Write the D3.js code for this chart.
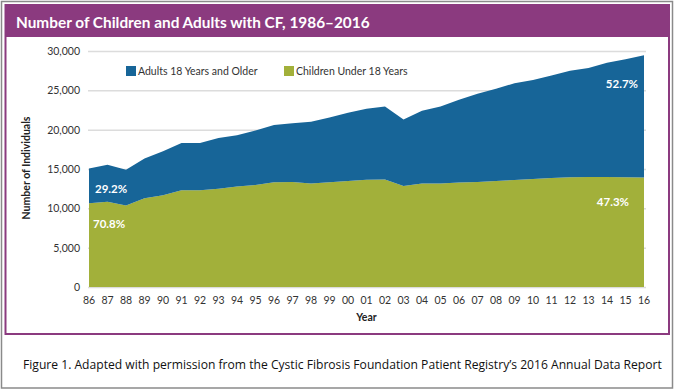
<!DOCTYPE html>
<html>
<head>
<meta charset="utf-8">
<script src="https://cdn.jsdelivr.net/npm/d3@7/dist/d3.min.js"></script>
<style>
  body { margin: 0; background: #fff; }
  svg { display: block; font-family: Lato, "Open Sans", sans-serif; }
  .grid line { stroke: #dcdcdc; stroke-width: 1.5; }
  .grid .domain { display: none; }
  .tick-label { font-size: 10.5px; fill: #333; }
  .axis-title { font-size: 10.5px; font-weight: bold; fill: #222; }
  .legend-label { font-size: 10.5px; fill: #333; }
  .pct { font-size: 11.5px; font-weight: bold; fill: #fff; }
</style>
</head>
<body>
<div id="chart"></div>
<script>
// Data
var years = ["86", "87", "88", "89", "90", "91", "92", "93", "94", "95", "96", "97", "98", "99", "00",
  "01", "02", "03", "04", "05", "06", "07", "08", "09", "10", "11", "12", "13", "14", "15", "16"];

var children = [10650, 10850, 10350, 11270, 11650, 12290, 12300, 12490, 12790, 12960, 13320, 13340,
  13170, 13300, 13470, 13630, 13680, 12830, 13150, 13170, 13270, 13340, 13470, 13600, 13740, 13850,
  13960, 13980, 13980, 13950, 13920];

var adults = [4400, 4700, 4550, 5080, 5600, 6010, 6000, 6460, 6510, 6940, 7280, 7460,
  7830, 8250, 8680, 9020, 9270, 8470, 9250, 9780, 10530, 11210, 11730, 12300, 12560, 13050,
  13540, 13870, 14520, 15000, 15530];

var yTicks = [0, 5000, 10000, 15000, 20000, 25000, 30000];

var seriesNames = ["Adults 18 Years and Older", "Children Under 18 Years"];
var startShares = ["29.2%", "70.8%"];
var endShares = ["52.7%", "47.3%"];

var COLORS = { adults: "#176598", children: "#a2b03a", purple: "#8b3a7f" };

var width = 675;
var height = 391;

var svg = d3.select("#chart")
  .append("svg")
  .attr("width", width)
  .attr("height", height);

// Frames
svg.append("rect")
  .attr("x", 1.5).attr("y", 1.5)
  .attr("width", 671).attr("height", 386.5)
  .attr("fill", "#fff")
  .attr("stroke", "#8a8a8a")
  .attr("stroke-width", 1.5);

svg.append("rect")
  .attr("x", 5.5).attr("y", 5)
  .attr("width", 663.5).attr("height", 329)
  .attr("fill", "#fff")
  .attr("stroke", COLORS.purple)
  .attr("stroke-width", 2);

svg.append("rect")
  .attr("x", 5.5).attr("y", 5)
  .attr("width", 663.5).attr("height", 32)
  .attr("fill", COLORS.purple);

// shrink a text until it fits the width it has in the picture
var fitWidth = function(sel, size, maxWidth) {
  var w = sel.node().getComputedTextLength();
  if (w > maxWidth) { sel.attr("font-size", size * maxWidth / w); }
};

var title = svg.append("text")
  .attr("x", 16)
  .attr("y", 27.5)
  .attr("fill", "#fff")
  .attr("font-size", 16.5)
  .attr("font-weight", "bold")
  .text("Number of Children and Adults with CF, 1986\u20132016");

fitWidth(title, 16.5, 354);

// Scales
var margins = { left: 89, right: 31, top: 51, bottom: 104 };

var xScale = d3.scalePoint()
  .domain(years)
  .range([margins.left, width - margins.right]);

var yScale = d3.scaleLinear()
  .domain([0, 30000])
  .range([height - margins.bottom, margins.top]);

// Grid
svg.append("g")
  .attr("class", "grid")
  .attr("transform", "translate(" + (margins.left - 1) + ",0)")
  .call(d3.axisLeft(yScale)
    .tickValues(yTicks)
    .tickSize(-(width - margins.right - margins.left + 3))
    .tickFormat(""));

// Stacked areas
var rows = years.map(function(y, i) {
  return { year: y, children: children[i], adults: adults[i] };
});

var stack = d3.stack().keys(["children", "adults"]);
var layers = stack(rows);

var area = d3.area()
  .x(function(d) { return xScale(d.data.year); })
  .y0(function(d) { return yScale(d[0]); })
  .y1(function(d) { return yScale(d[1]); });

svg.append("g")
  .attr("class", "areas")
  .selectAll("path")
  .data(layers)
  .enter()
  .append("path")
  .attr("fill", function(d) { return COLORS[d.key]; })
  .attr("d", area);

// Y tick labels
svg.append("g")
  .selectAll("text")
  .data(yTicks)
  .enter()
  .append("text")
  .attr("class", "tick-label")
  .attr("x", 80)
  .attr("y", function(d) { return yScale(d) + 4; })
  .attr("text-anchor", "end")
  .text(function(d) { return d3.format(",")(d); });

// X tick labels
svg.append("g")
  .selectAll("text")
  .data(years)
  .enter()
  .append("text")
  .attr("class", "tick-label")
  .attr("x", function(d) { return xScale(d); })
  .attr("y", 303.5)
  .attr("text-anchor", "middle")
  .text(function(d) { return d; });

// Axis titles
svg.append("text")
  .attr("class", "axis-title")
  .attr("x", (xScale(years[0]) + xScale(years[years.length - 1])) / 2)
  .attr("y", 321)
  .attr("text-anchor", "middle")
  .text("Year");

svg.append("text")
  .attr("class", "axis-title")
  .attr("transform", "translate(30,168) rotate(-90)")
  .attr("text-anchor", "middle")
  .text("Number of Individuals");

// Legend
var legendItems = [
  { name: seriesNames[0], color: COLORS.adults, x: 126 },
  { name: seriesNames[1], color: COLORS.children, x: 284 }
];

var legend = svg.append("g")
  .attr("class", "legend")
  .selectAll("g")
  .data(legendItems)
  .enter()
  .append("g")
  .attr("transform", function(d) { return "translate(" + d.x + ",66)"; });

legend.append("rect")
  .attr("width", 10)
  .attr("height", 10)
  .attr("fill", function(d) { return d.color; });

legend.append("text")
  .attr("class", "legend-label")
  .attr("x", 12)
  .attr("y", 9)
  .text(function(d) { return d.name; });

// Share labels at both ends
var first = rows[0];
var last = rows[rows.length - 1];

svg.append("text")
  .attr("class", "pct")
  .attr("x", xScale(first.year) + 6)
  .attr("y", yScale(first.children + first.adults * 0.3))
  .text(startShares[0]);

svg.append("text")
  .attr("class", "pct")
  .attr("x", xScale(first.year) + 4)
  .attr("y", yScale(first.children * 0.71))
  .text(startShares[1]);

svg.append("text")
  .attr("class", "pct")
  .attr("x", xScale(last.year) - 6)
  .attr("y", yScale(last.children + last.adults * 0.73))
  .attr("text-anchor", "end")
  .text(endShares[0]);

svg.append("text")
  .attr("class", "pct")
  .attr("x", xScale(last.year) - 15)
  .attr("y", yScale(last.children * 0.74))
  .attr("text-anchor", "end")
  .text(endShares[1]);

// Caption
var caption = svg.append("text")
  .attr("x", 23)
  .attr("y", 369)
  .attr("font-family", "'Open Sans', 'Noto Sans', sans-serif")
  .attr("font-size", 12.5)
  .attr("fill", "#111")
  .text("Figure 1. Adapted with permission from the Cystic Fibrosis Foundation Patient Registry\u2019s 2016 Annual Data Report");

fitWidth(caption, 12.5, 639);
</script>
</body>
</html>
